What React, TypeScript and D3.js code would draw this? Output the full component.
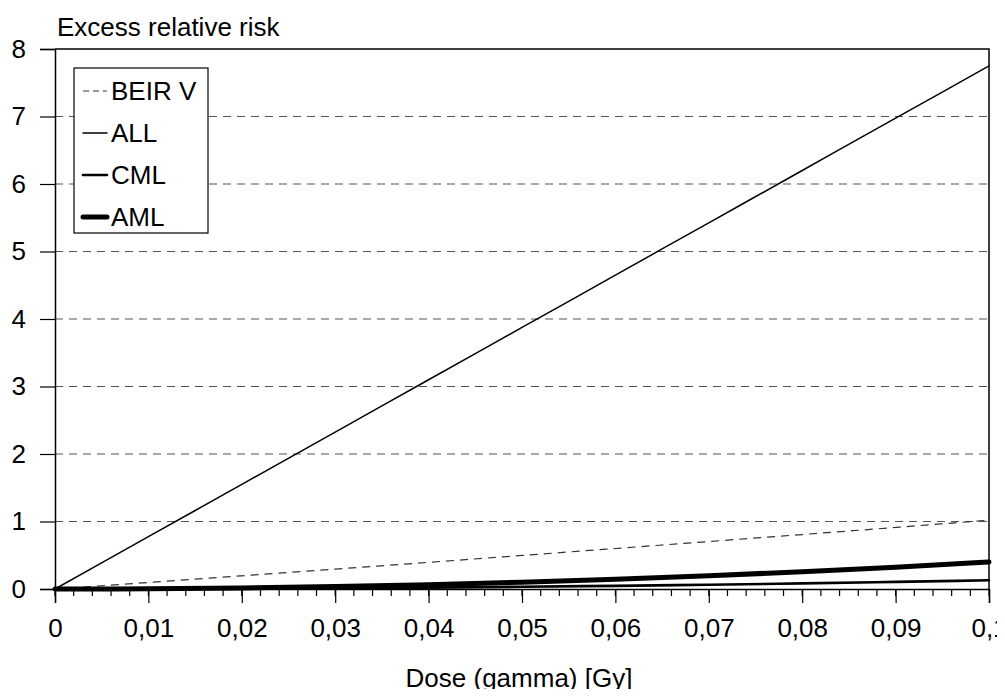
import React, { useEffect, useRef } from "react";
import * as d3 from "d3";

const doses = [0, 0.01, 0.02, 0.03, 0.04, 0.05, 0.06, 0.07, 0.08, 0.09, 0.1];
const beirV = [0, 0.097, 0.195, 0.295, 0.395, 0.497, 0.6, 0.703, 0.807, 0.912, 1.02];
const all = [0, 0.775, 1.55, 2.325, 3.1, 3.875, 4.65, 5.425, 6.2, 6.975, 7.75];
const cml = [0, 0.001, 0.005, 0.012, 0.021, 0.033, 0.047, 0.064, 0.083, 0.105, 0.13];
const aml = [0, 0.004, 0.016, 0.036, 0.064, 0.1, 0.144, 0.196, 0.256, 0.324, 0.4];
const yTicks = [0, 1, 2, 3, 4, 5, 6, 7, 8];
const xTickLabels = ["0", "0,01", "0,02", "0,03", "0,04", "0,05", "0,06", "0,07", "0,08", "0,09", "0,1"];

const seriesList = [
  { name: "BEIR V", values: beirV, width: 1.2, dash: "8,6", color: "#333" },
  { name: "ALL", values: all, width: 1.5, dash: null, color: "#000" },
  { name: "CML", values: cml, width: 2.6, dash: null, color: "#000" },
  { name: "AML", values: aml, width: 5, dash: null, color: "#000" },
];

export default function App() {
  const ref = useRef<SVGSVGElement>(null);

  useEffect(() => {
    const svg = d3.select(ref.current);
    svg.selectAll("*").remove();
    const font = "'Liberation Sans', Arial, Helvetica, sans-serif";
    const left = 55, right = 989, top = 49, bottom = 589;

    const x = d3.scaleLinear().domain([0, 0.1]).range([left, right]);
    const y = d3.scaleLinear().domain([0, 8]).range([bottom, top]);

    // grid lines
    svg.append("g")
      .selectAll("line")
      .data(yTicks.filter((t) => t > 0 && t < 8))
      .enter()
      .append("line")
      .attr("x1", left)
      .attr("x2", right)
      .attr("y1", (d) => y(d))
      .attr("y2", (d) => y(d))
      .style("stroke", "#555")
      .style("stroke-width", 1.2)
      .style("stroke-dasharray", "8,6");

    // frame: top + right
    svg.append("path")
      .attr("d", `M${left},${y(8)}H${right}V${bottom}`)
      .style("fill", "none")
      .style("stroke", "#000")
      .style("stroke-width", 1.5);

    // y axis
    const yAxis = svg.append("g")
      .attr("transform", `translate(${left},0)`)
      .call(d3.axisLeft(y).tickValues(yTicks).tickSize(15).tickPadding(14).tickFormat(d3.format("d")));
    yAxis.select(".domain").style("stroke-width", 1.5);
    yAxis.selectAll("line").style("stroke-width", 1.2);
    yAxis.selectAll("text").style("font-family", font).style("font-size", "26px").style("fill", "#000");

    // x axis minor ticks
    const minor = d3.range(0, 51).map((i) => i * 0.002);
    svg.append("g")
      .selectAll("line")
      .data(minor)
      .enter()
      .append("line")
      .attr("x1", (d) => x(d))
      .attr("x2", (d) => x(d))
      .attr("y1", bottom)
      .attr("y2", bottom + 7)
      .style("stroke", "#000")
      .style("stroke-width", 1.2);

    const xAxis = svg.append("g")
      .attr("transform", `translate(0,${bottom})`)
      .call(d3.axisBottom(x).tickValues(doses).tickSize(14).tickPadding(16).tickFormat((d, i) => xTickLabels[i]));
    xAxis.select(".domain").style("stroke-width", 1.5);
    xAxis.selectAll("line").style("stroke-width", 1.2);
    xAxis.selectAll("text").style("font-family", font).style("font-size", "26px").style("fill", "#000");

    // series lines
    const line = d3.line<number>()
      .x((d, i) => x(doses[i]))
      .y((d) => y(d))
      .curve(d3.curveMonotoneX);

    seriesList.forEach((s) => {
      const p = svg.append("path")
        .datum(s.values)
        .attr("d", line)
        .style("fill", "none")
        .style("stroke", s.color)
        .style("stroke-width", s.width)
        .style("stroke-linecap", s.dash ? "butt" : "round");
      if (s.dash) p.style("stroke-dasharray", s.dash);
    });

    // titles
    svg.append("text")
      .attr("x", 57)
      .attr("y", 36)
      .style("font-family", font)
      .style("font-size", "26px")
      .text("Excess relative risk");

    svg.append("text")
      .attr("x", 519)
      .attr("y", 687)
      .attr("text-anchor", "middle")
      .style("font-family", font)
      .style("font-size", "26px")
      .text("Dose (gamma) [Gy]");

    // legend
    const lg = svg.append("g");
    lg.append("rect")
      .attr("x", 74)
      .attr("y", 68)
      .attr("width", 134)
      .attr("height", 165)
      .style("fill", "#fff")
      .style("stroke", "#000")
      .style("stroke-width", 1.2);
    seriesList.forEach((s, i) => {
      const cy = 91 + i * 42;
      const l = lg.append("line")
        .attr("x1", 83)
        .attr("x2", 107)
        .attr("y1", cy)
        .attr("y2", cy)
        .style("stroke", s.color)
        .style("stroke-width", s.width)
        .style("stroke-linecap", s.dash ? "butt" : "round");
      if (s.dash) l.style("stroke-dasharray", "6,4");
      lg.append("text")
        .attr("x", 111)
        .attr("y", cy + 9)
        .style("font-family", font)
        .style("font-size", "26px")
        .text(s.name);
    });
  }, []);

  return (
    <div style={{ margin: -8 }}>
      <svg ref={ref} width={1005} height={697} style={{ display: "block", background: "#fff" }} />
    </div>
  );
}
